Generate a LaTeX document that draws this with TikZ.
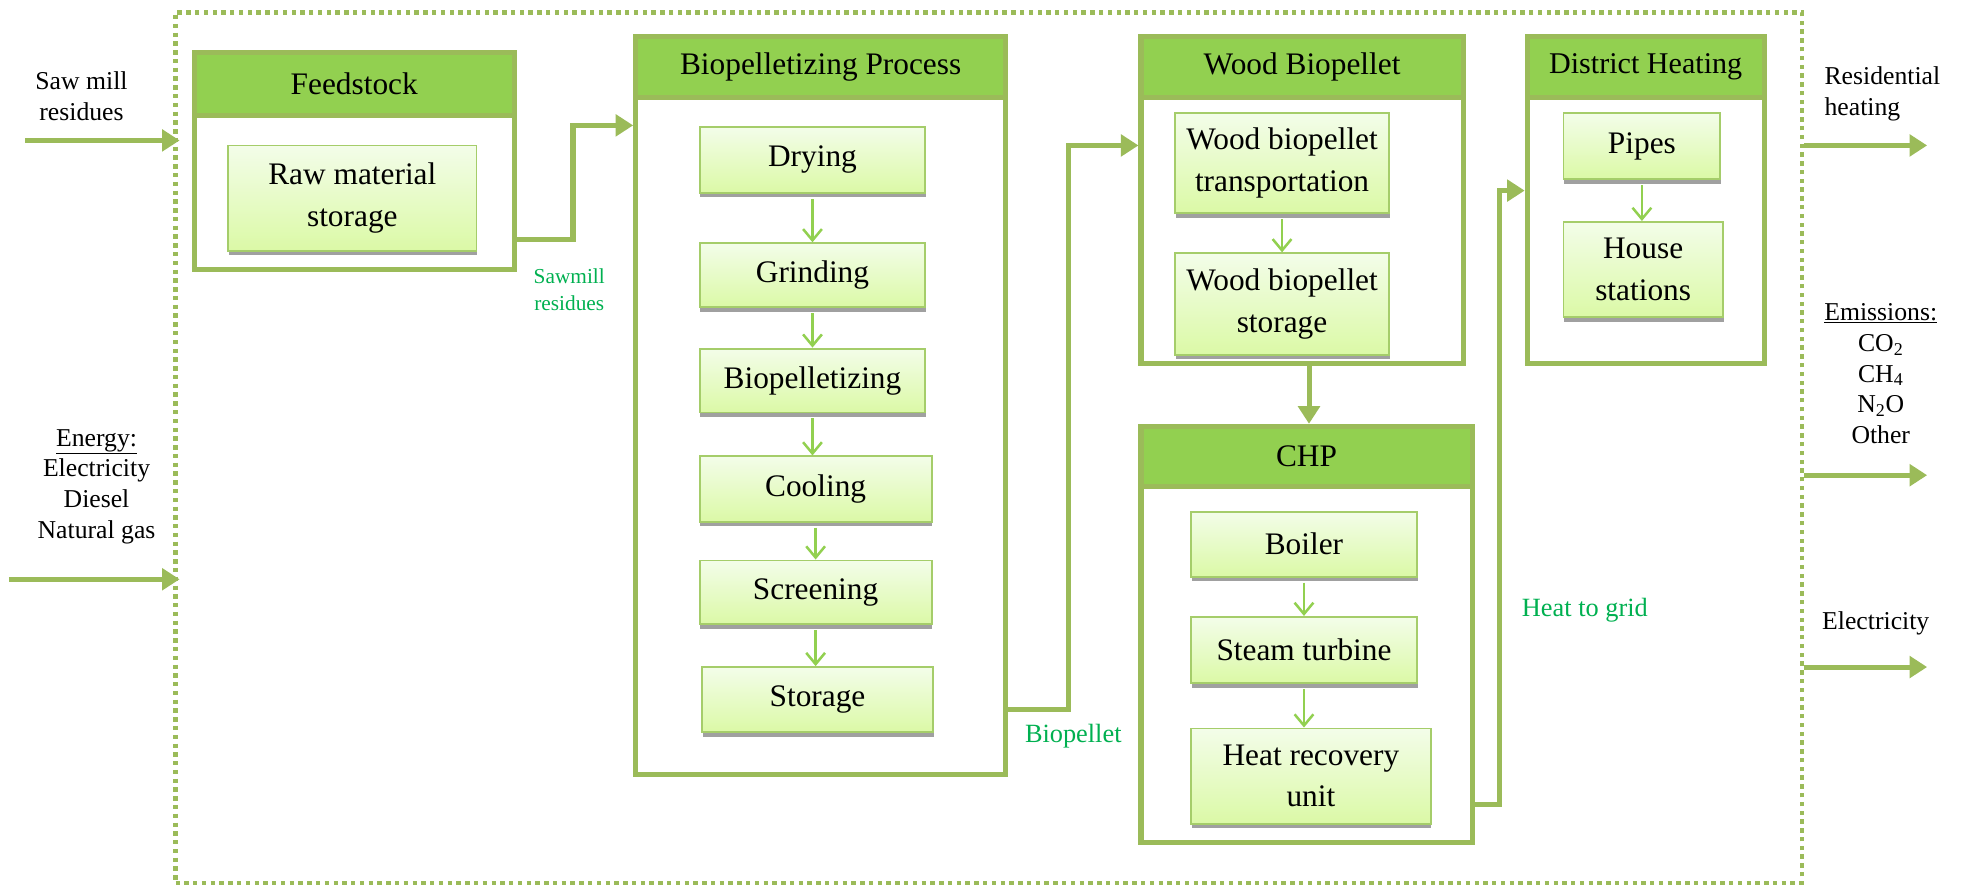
\documentclass[tikz,border=0pt]{standalone}
\usepackage{fontspec}
\setmainfont{Liberation Serif}
\usetikzlibrary{arrows.meta,shadows}

\definecolor{frameg}{HTML}{9BBB59}
\definecolor{hdrg}{HTML}{92D050}
\definecolor{lblg}{HTML}{00B050}
\definecolor{boxedge}{HTML}{A5CD6A}
\definecolor{boxtop}{HTML}{F3FDE9}
\definecolor{boxbot}{HTML}{DBF9A6}
\definecolor{shadeg}{HTML}{A0A0A0}

\begin{document}
\begin{tikzpicture}[x=1pt,y=-1pt,
  grp/.style={draw=frameg, line width=4pt, fill=white, inner sep=0pt},
  hdr/.style={draw=frameg, line width=4pt, fill=hdrg, inner sep=0pt, anchor=north,
              font=\fontsize{25}{30}\selectfont},
  unit/.style={draw=boxedge, line width=1.5pt, top color=boxtop, bottom color=boxbot,
               align=center, inner sep=2pt, font=\fontsize{25}{33}\selectfont,
               general shadow={fill=shadeg, shadow yshift=-3.5pt, shadow xshift=0.6pt}},
  flow/.style={draw=frameg, line width=4pt, -{Triangle[length=14pt,width=17pt]}},
  thinarr/.style={draw=hdrg, line width=2pt, -{Straight Barb[length=9pt,width=15pt]}},
  side/.style={inner sep=0pt, font=\fontsize{20.5}{24.5}\selectfont},
  lbl/.style={inner sep=0pt, text=lblg, font=\fontsize{21}{25}\selectfont}
]
\useasboundingbox (0,0) rectangle (1568,706);

% system boundary
\node[draw=frameg, line width=3.5pt, dash pattern=on 3.5pt off 3.5pt, inner sep=0pt,
      minimum width=1297pt, minimum height=694pt] (frame) at (788.5,357) {};

% stage boxes with their title bands
\node[grp, minimum width=255pt, minimum height=173pt] (feed) at (282.5,128.5) {};
\node[hdr, minimum width=255pt, minimum height=50pt] (feedh) at (feed.north) {Feedstock};

\node[grp, minimum width=295pt, minimum height=589pt] (bpp) at (654.5,323.5) {};
\node[hdr, minimum width=295pt, minimum height=49pt] (bpph) at (bpp.north) {Biopelletizing Process};

\node[grp, minimum width=257pt, minimum height=261pt] (wbp) at (1038.5,159.5) {};
\node[hdr, minimum width=257pt, minimum height=49pt] (wbph) at (wbp.north) {Wood Biopellet};

\node[grp, minimum width=264pt, minimum height=332pt] (chp) at (1042,506) {};
\node[hdr, minimum width=264pt, minimum height=48pt] (chph) at (chp.north) {CHP};

\node[grp, minimum width=189pt, minimum height=261pt] (dh) at (1312.5,159.5) {};
\node[hdr, minimum width=189pt, minimum height=49pt, font=\fontsize{24}{28}\selectfont] (dhh) at (dh.north) {District Heating};

% process steps
\node[unit, minimum width=198pt, minimum height=84pt] (raw) at (281,158) {Raw material\\storage};

\node[unit, minimum width=180pt, minimum height=53pt] (dry) at (648,127.5) {Drying};
\node[unit, minimum width=180pt, minimum height=51pt] (grind) at (648,219.5) {Grinding};
\node[unit, minimum width=180pt, minimum height=51pt] (pell) at (648,303.5) {Biopelletizing};
\node[unit, minimum width=185pt, minimum height=52pt] (cool) at (650.5,390) {Cooling};
\node[unit, minimum width=185pt, minimum height=51pt] (screen) at (650.5,472.5) {Screening};
\node[unit, minimum width=184pt, minimum height=52pt] (store) at (652,558) {Storage};

\node[unit, minimum width=171pt, minimum height=80pt] (trans) at (1022.5,130) {Wood biopellet\\transportation};
\node[unit, minimum width=171pt, minimum height=81pt] (wstore) at (1022.5,242.5) {Wood biopellet\\storage};

\node[unit, minimum width=180pt, minimum height=52pt] (boiler) at (1040,434) {Boiler};
\node[unit, minimum width=180pt, minimum height=53pt] (steam) at (1040,518.5) {Steam turbine};
\node[unit, minimum width=191pt, minimum height=76pt] (hru) at (1045.5,619) {Heat recovery\\unit};

\node[unit, minimum width=125pt, minimum height=53pt] (pipes) at (1309.5,116.5) {Pipes};
\node[unit, minimum width=127pt, minimum height=76pt] (house) at (1310.5,215) {House\\stations};

% links between steps
\draw[thinarr] ([yshift=-4pt]dry.south) -- (grind.north);
\draw[thinarr] ([yshift=-4pt]grind.south) -- (pell.north);
\draw[thinarr] ([yshift=-4pt]pell.south) -- (pell.south |- cool.north);
\draw[thinarr] ([yshift=-4pt]cool.south) -- (screen.north);
\draw[thinarr] ([yshift=-4pt]screen.south) -- (screen.south |- store.north);
\draw[thinarr] ([yshift=-4pt]trans.south) -- (wstore.north);
\draw[thinarr] ([yshift=-4pt]boiler.south) -- (steam.north);
\draw[thinarr] ([yshift=-4pt]steam.south) -- (steam.south |- hru.north);
\draw[thinarr] ([yshift=-4pt]pipes.south) -- (pipes.south |- house.north);

% material and energy flows between stages
\coordinate (s1) at (457,191);
\coordinate (s2) at (457,100);
\draw[flow] (feed.east |- s1) -- (s1) -- (s2) -- (bpp.west |- s2);

\coordinate (b1) at (852,566);
\coordinate (b2) at (852,116);
\draw[flow] (bpp.east |- b1) -- (b1) -- (b2) -- (wbp.west |- b2);

\coordinate (w1) at (1044,300);
\draw[flow] (wbp.south -| w1) -- (chp.north -| w1);

\coordinate (h1) at (1196,642);
\coordinate (h2) at (1196,152);
\draw[flow] (chp.east |- h1) -- (h1) -- (h2) -- (dh.west |- h2);

\node[lbl, align=center, font=\fontsize{17}{22}\selectfont] (lsaw) at (454,231) {Sawmill\\residues};
\node[lbl] (lbio) at (856,587) {Biopellet};
\node[lbl] (lheat) at (1264,487) {Heat to grid};

% inputs
\coordinate (inA) at (20,112);
\coordinate (inB) at (7,462);
\draw[flow] (inA) -- ([xshift=5pt]inA -| frame.west);
\draw[flow] (inB) -- ([xshift=5pt]inB -| frame.west);
\node[side, align=center] (sawin) at (65,77) {Saw mill\\residues};
\node[side, align=center] (energy) at (77,388) {\underline{Energy:}\\Electricity\\Diesel\\Natural gas};

% outputs
\coordinate (outA) at (1537,116);
\coordinate (outB) at (1537,379);
\coordinate (outC) at (1537,532);
\draw[flow] (frame.east |- outA) -- (outA);
\draw[flow] (frame.east |- outB) -- (outB);
\draw[flow] (frame.east |- outC) -- (outC);
\node[side, align=left, anchor=west] (resid) at (1455,75) {Residential\\heating};
\node[side, align=center] (emis) at (1500,298) {\underline{Emissions:}\\CO\textsubscript{2}\\CH\textsubscript{4}\\N\textsubscript{2}O\\Other};
\node[side] (elec) at (1496,497) {Electricity};
\end{tikzpicture}
\end{document}
